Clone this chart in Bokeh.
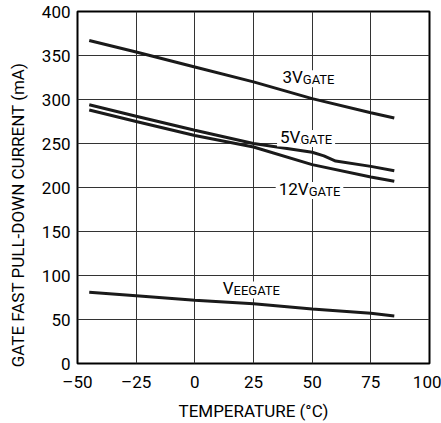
from bokeh.plotting import figure
from bokeh.models import Label, FixedTicker
from bokeh.embed import file_html
from bokeh.resources import INLINE

# Data
t_3v = [-45, -25, 0, 25, 50, 75, 85]
i_3v = [367, 354, 337, 320, 301, 285, 279]

t_5v = [-45, -25, 0, 25, 50, 55, 60, 75, 85]
i_5v = [294, 281, 265, 250, 240, 236, 230, 224, 219]

t_12v = [-45, -25, 0, 25, 50, 75, 85]
i_12v = [288, 275, 259, 246, 226, 212, 207]

t_vee = [-45, -25, 0, 25, 50, 75, 85]
i_vee = [81, 77, 72, 68, 62, 57, 54]

x_ticks = [-50, -25, 0, 25, 50, 75, 100]
y_ticks = [0, 50, 100, 150, 200, 250, 300, 350, 400]

x_title = "TEMPERATURE (\u00b0C)"
y_title = "GATE FAST PULL-DOWN CURRENT (mA)"

FONT = "Roboto"

p = figure(width=441, height=423, x_range=(-50, 100), y_range=(0, 400),
           output_backend="svg", toolbar_location=None,
           min_border_left=77, min_border_right=12, min_border_top=11, min_border_bottom=60)

p.outline_line_color = "black"
p.outline_line_width = 2
p.background_fill_color = "white"

p.xaxis.ticker = FixedTicker(ticks=x_ticks)
p.yaxis.ticker = FixedTicker(ticks=y_ticks)
p.xaxis.major_label_overrides = {-50: "\u201350", -25: "\u201325"}
for ax in (p.xaxis[0], p.yaxis[0]):
    ax.axis_line_color = None
    ax.major_tick_line_color = None
    ax.minor_tick_line_color = None
    ax.major_tick_out = 0
    ax.major_tick_in = 0
    ax.major_label_text_font = FONT
    ax.major_label_text_font_size = "17px"
    ax.major_label_text_color = "black"
    ax.axis_label_text_font = FONT
    ax.axis_label_text_font_size = "17px"
    ax.axis_label_text_font_style = "normal"
    ax.axis_label_text_color = "black"
p.xaxis.major_label_standoff = 8
p.yaxis.major_label_standoff = 7
p.xaxis.axis_label = x_title
p.xaxis.axis_label_standoff = 6
# trailing no-break spaces shift the centred title down, as in the reference
p.yaxis.axis_label = y_title + "\u00a0" * 13
p.yaxis.axis_label_standoff = 11

p.xgrid.grid_line_color = "#333333"
p.ygrid.grid_line_color = "#333333"
p.xgrid.grid_line_width = 1
p.ygrid.grid_line_width = 1
p.xgrid.ticker = FixedTicker(ticks=x_ticks)
p.ygrid.ticker = FixedTicker(ticks=y_ticks)

for xs, ys in ((t_3v, i_3v), (t_5v, i_5v), (t_12v, i_12v), (t_vee, i_vee)):
    p.line(xs, ys, line_color="#1a1a1a", line_width=3)


def add_label(x, y, main, sub):
    lm = Label(x=x, y=y, text=main, text_align="right", text_baseline="middle",
               text_font=FONT, text_font_size="17px", text_color="black",
               background_fill_color="white")
    ls = Label(x=x, y=y, text=sub, text_align="left", text_baseline="middle",
               text_font=FONT, text_font_size="13px", text_color="black",
               background_fill_color="white", y_offset=-3)
    try:
        lm.padding = dict(left=3, right=0, top=2, bottom=0)
        ls.padding = dict(left=0, right=3, top=2, bottom=0)
    except Exception:
        lm.padding = 1
        ls.padding = 1
        lm.x_offset = 1
        ls.x_offset = -1
    p.add_layout(ls)
    p.add_layout(lm)


add_label(46, 327, "3V", "GATE")
add_label(45, 259, "5V", "GATE")
add_label(48.5, 200, "12V", "GATE")
add_label(16.5, 87, "V", "EEGATE")

open("out.html", "w").write(file_html(p, INLINE))
